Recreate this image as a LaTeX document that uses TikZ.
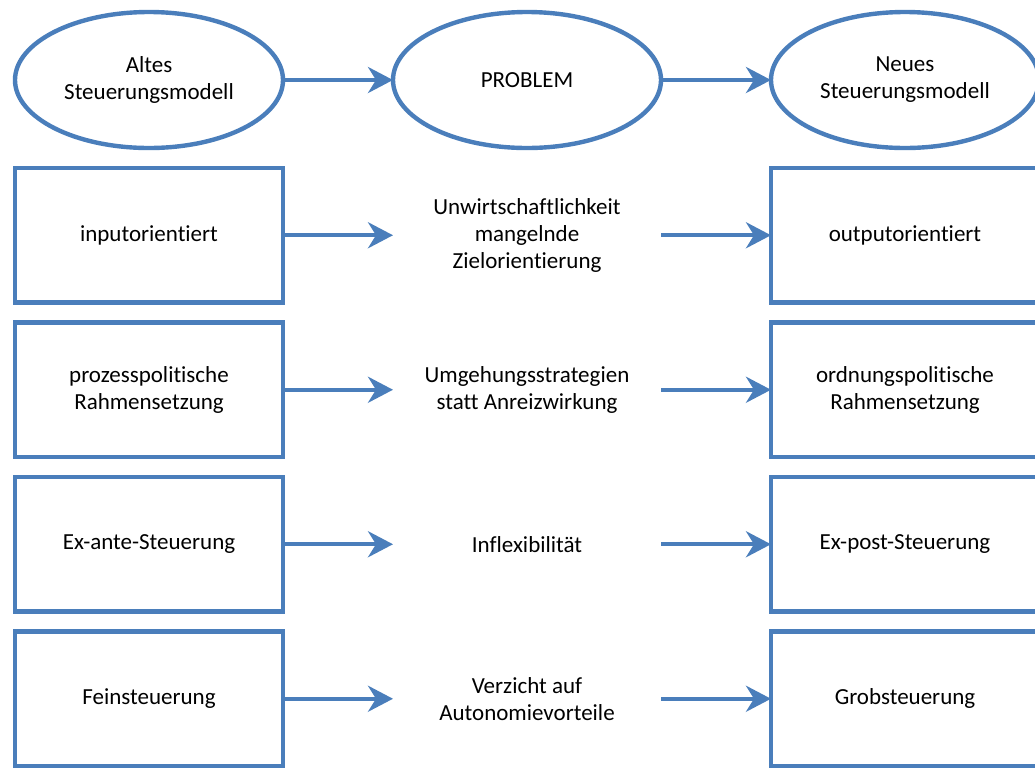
\documentclass[tikz,border=0pt]{standalone}
\usepackage{fontspec}
\setmainfont{Carlito}[Ligatures=NoCommon]
\usepackage{tikz}
\usetikzlibrary{arrows.meta,positioning,shapes.geometric}
\definecolor{officeblue}{HTML}{4A7EBB}
\tikzset{
  oval/.style={ellipse, draw=officeblue, line width=2.2pt, minimum width=134pt, minimum height=68pt, inner sep=0pt, outer sep=0pt, align=center, font=\fontsize{11.5}{13.5}\selectfont},
  blk/.style={rectangle, draw=officeblue, line width=2.2pt, minimum width=134pt, minimum height=67.25pt, inner sep=0pt, outer sep=0pt, align=center, font=\fontsize{11.5}{13.5}\selectfont},
  mid/.style={blk, draw=none},
  ar/.style={-{Stealth[length=12.5pt, width=13pt, inset=4pt]}, line width=2pt, draw=officeblue},
}

\begin{document}
\begin{tikzpicture}[node distance=10pt and 55pt]
        \useasboundingbox (0,0) rectangle (517.5pt,-383.5pt);
        \node[oval] (alt) at (74.5pt,-40pt) {Altes\\Steuerungsmodell};
        \node[oval, right=of alt] (prob) {PROBLEM};
        \node[oval, right=of prob] (neu) {Neues\\Steuerungsmodell};
        \node[blk, below=of alt] (a1) {inputorientiert};
        \node[blk, below=of a1] (a2) {prozesspolitische\\Rahmensetzung};
        \node[blk, below=of a2] (a3) {Ex-ante-Steuerung};
        \node[blk, below=of a3] (a4) {Feinsteuerung};
        \node[mid, below=of prob] (p1) {Unwirtschaftlichkeit\\mangelnde\\Zielorientierung};
        \node[mid, below=of p1] (p2) {Umgehungsstrategien\\statt Anreizwirkung};
        \node[mid, below=of p2] (p3) {Inflexibilität};
        \node[mid, below=of p3] (p4) {Verzicht auf\\Autonomievorteile};
        \node[blk, below=of neu] (n1) {outputorientiert};
        \node[blk, below=of n1] (n2) {ordnungspolitische\\Rahmensetzung};
        \node[blk, below=of n2] (n3) {Ex-post-Steuerung};
        \node[blk, below=of n3] (n4) {Grobsteuerung};
        \draw[ar] (alt)--(prob); \draw[ar] (prob)--(neu);
        \draw[ar] (a1)--(p1); \draw[ar] (p1)--(n1);
        \draw[ar] (a2)--(p2); \draw[ar] (p2)--(n2);
        \draw[ar] (a3)--(p3); \draw[ar] (p3)--(n3);
        \draw[ar] (a4)--(p4); \draw[ar] (p4)--(n4);
      \end{tikzpicture}
\end{document}
